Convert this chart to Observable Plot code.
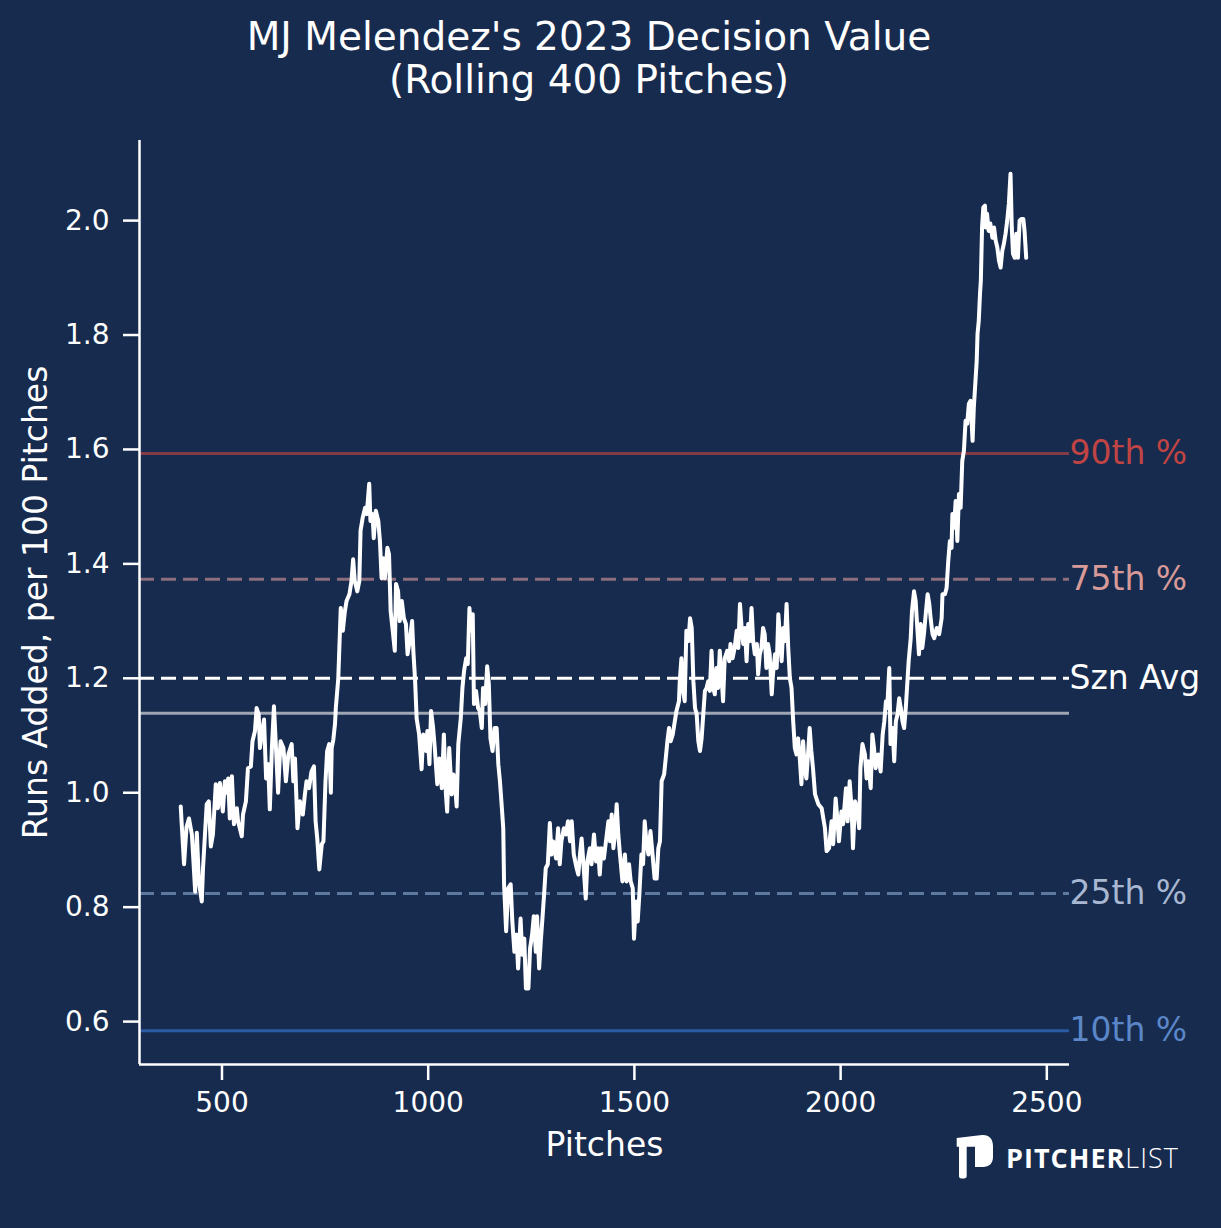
<!DOCTYPE html>
<html>
<head>
<meta charset="utf-8">
<script src="https://cdn.jsdelivr.net/npm/d3@7"></script>
<script src="https://cdn.jsdelivr.net/npm/@observablehq/plot@0.6"></script>
<style>
html, body { margin: 0; padding: 0; background: #172b4e; }
#wrap { position: relative; width: 1221px; height: 1228px; overflow: hidden; background: #172b4e; }
#title { position: absolute; left: 0; top: 15px; width: 1178px; text-align: center; color: #fff;
  font-family: "DejaVu Sans", sans-serif; font-size: 39px; line-height: 43px; }
#logo { position: absolute; left: 955px; top: 1133px; display: flex; align-items: center; }
#logo .word { margin-left: 11px; color: #fff; font-family: "Open Sans", sans-serif; font-size: 27px; letter-spacing: 1px; line-height: 1; }
#logo .b { font-weight: 700; }
#logo .l { font-weight: 300; }
</style>
</head>
<body>
<div id="wrap">
  <div id="title"></div>
  <div id="logo">
    <svg width="40" height="48" viewBox="0 0 40 48">
      <path d="M1.7,5 L27,2 C34,1.5 38,6 38,13 L38,24 C38,30.5 34,34 28,34 L20,34 L20,13.7 L11.7,13.7 L11.7,43 C11.7,44.6 10.7,45.5 9,45.5 L6.5,45.5 C4.8,45.5 4,44.6 4,43 L4,13.7 L1.7,13.7 Z" fill="#fff"/>
    </svg>
    <div class="word"><span class="b">PITCHER</span><span class="l">LIST</span></div>
  </div>
</div>
<script>
// ---- Data ----
const titleLines = ["MJ Melendez's 2023 Decision Value", "(Rolling 400 Pitches)"];
const xLabel = "Pitches";
const yLabel = "Runs Added, per 100 Pitches";
const xTicks = [500, 1000, 1500, 2000, 2500];
const yTicks = [0.6, 0.8, 1.0, 1.2, 1.4, 1.6, 1.8, 2.0];

const pitches = [
400,402,408,414,420,427,430,435,439,444,451,454,463,468,473,478,485,490,495,502,507,511,515,519,524,529,536,539,548,551,558,563,570,574,580,584,589,592,596,602,607,612,616,621,626,631,636,642,649,655,661,669,673,677,683,689,696,701,705,711,717,723,727,731,736,742,746,751,755,760,764,766,770,774,776,782,
788,793,798,802,809,814,818,822,828,833,836,841,847,851,857,860,865,868,873,879,883,887,891,895,901,905,909,914,919,922,927,931,936,941,946,950,956,961,964,968,972,978,984,988,995,998,1003,1007,1012,1016,1022,1027,1033,1038,1043,1046,1051,1057,1061,1065,1069,1073,1079,1083,1087,1092,1096,1100,1104,1108,1111,1116,1121,1125,1130,1133,1138,1143,1147,1151,1156,1161,1166,1170,1174,1178,1182,
1184,1189,1194,1200,1204,1209,1214,1218,1224,1228,1233,1237,1243,1247,1252,1256,1261,1264,1269,1273,1277,1281,1285,1290,1295,1299,1303,1310,1315,1319,1323,1329,1334,1339,1344,1348,1353,1360,1364,1368,1372,1376,1382,1386,1392,1396,1402,1407,1412,1416,1420,1426,1431,1437,1441,1445,1449,1453,1457,1461,1465,1471,1477,1481,1487,1491,1496,1499,1504,1508,1512,1517,1521,1525,1529,1534,1539,1544,1549,1554,1558,1562,1566,1572,1576,1580,1584,1588,1593,1598,1602,1608,
1610,1614,1618,1622,1626,1631,1635,1639,1643,1647,1651,1655,1659,1663,1667,1671,1675,1679,1683,1687,1691,1695,1699,1703,1707,1711,1715,1719,1725,1730,1733,1738,1743,1748,1752,1756,1760,1764,1768,1772,1776,1780,1784,1788,1792,1797,1800,1804,1808,1812,1816,1820,1824,1828,1833,1836,1841,1845,1849,1853,1857,1861,1865,1869,1873,1877,1881,1885,1889,1893,1897,1901,1905,1909,1913,1917,1921,1925,1929,1933,
1938,1946,1954,1962,1966,1972,1978,1982,1988,1992,1996,2002,2006,2013,2017,2022,2027,2030,2035,2040,2045,2048,2053,2059,2063,2067,2073,2077,2081,2085,2091,2097,2102,2106,2110,2113,2118,2121,2126,2130,2134,2138,2142,2146,2150,2154,2158,2161,2165,2170,2173,2178,2182,2186,2190,2194,2198,2202,2207,2211,2215,2219,2223,2227,2233,2239,2245,2247,2253,2257,2261,
2265,2269,2271,2275,2279,2283,2287,2291,2295,2299,2303,2307,2311,2315,2320,2323,2327,2330,2332,2335,2338,2340,2343,2346,2350,2352,2355,2359,2363,2368,2372,2376,2380,2384,2388,2392,2396,2400,2404,2408,2412,2415,2418,2422,2426,2430,2434,2439,2443,2446,2450
];
const values = [
0.976,0.95,0.875,0.94,0.955,0.927,0.89,0.827,0.93,0.845,0.81,0.868,0.98,0.985,0.906,0.927,1.015,0.973,1.017,0.967,1.02,1.0,1.025,0.955,1.029,0.945,0.973,0.95,0.924,0.962,0.985,1.043,1.046,1.09,1.108,1.148,1.137,1.078,1.102,1.128,1.025,1.05,0.971,1.078,1.151,1.078,1.0,1.09,1.078,1.02,1.067,1.085,1.02,1.06,0.938,0.985,0.962,0.997,1.02,1.008,1.037,1.046,0.95,0.92,0.866,0.91,0.915,1.02,1.073,1.085,1.0,1.078,1.093,1.12,1.148,1.2,
1.323,1.283,1.317,1.335,1.347,1.37,1.408,1.37,1.352,1.37,1.458,1.48,1.498,1.487,1.54,1.475,1.487,1.445,1.493,1.475,1.44,1.375,1.41,1.375,1.428,1.417,1.317,1.283,1.248,1.365,1.352,1.3,1.335,1.305,1.295,1.242,1.27,1.3,1.248,1.2,1.13,1.102,1.041,1.102,1.073,1.108,1.05,1.143,1.113,1.078,1.015,1.06,1.008,1.102,0.997,0.967,1.078,0.997,1.032,1.015,0.976,1.085,1.13,1.183,1.213,1.235,1.225,1.323,1.283,1.312,1.155,1.178,1.148,1.143,1.113,1.183,1.155,1.221,1.19,1.095,1.073,1.113,1.113,1.05,1.02,0.98,0.938,
0.84,0.758,0.833,0.84,0.775,0.722,0.752,0.693,0.78,0.717,0.745,0.658,0.658,0.728,0.752,0.784,0.722,0.784,0.693,0.74,0.78,0.822,0.868,0.875,0.947,0.892,0.915,0.885,0.938,0.875,0.915,0.938,0.927,0.95,0.915,0.95,0.892,0.868,0.857,0.892,0.92,0.88,0.815,0.88,0.903,0.875,0.927,0.88,0.903,0.857,0.903,0.885,0.915,0.95,0.915,0.962,0.903,0.927,0.98,0.927,0.892,0.845,0.892,0.845,0.875,0.845,0.833,0.745,0.81,0.775,0.822,0.892,0.875,0.95,0.915,0.892,0.933,0.892,0.85,0.85,0.903,0.915,1.02,1.032,1.06,1.09,1.113,1.09,1.102,1.125,1.143,1.16,
1.195,1.235,1.178,1.16,1.283,1.265,1.305,1.288,1.195,1.148,1.137,1.09,1.073,1.095,1.137,1.178,1.183,1.195,1.178,1.248,1.183,1.172,1.218,1.183,1.248,1.207,1.16,1.235,1.248,1.23,1.26,1.235,1.253,1.283,1.253,1.33,1.288,1.26,1.288,1.23,1.295,1.265,1.323,1.265,1.242,1.26,1.207,1.242,1.253,1.288,1.277,1.218,1.26,1.242,1.172,1.207,1.242,1.218,1.312,1.27,1.23,1.288,1.265,1.33,1.253,1.2,1.183,1.125,1.078,1.067,1.095,1.06,1.015,1.09,1.043,1.025,1.067,1.113,1.073,1.043,
0.997,0.98,0.973,0.938,0.898,0.903,0.95,0.91,0.99,0.955,0.915,0.967,0.945,1.008,0.95,1.02,0.967,0.903,0.985,0.973,0.938,1.043,1.085,1.067,1.025,1.055,1.008,1.102,1.078,1.043,1.067,1.037,1.102,1.125,1.16,1.148,1.218,1.085,1.113,1.055,1.125,1.137,1.165,1.148,1.125,1.113,1.148,1.183,1.23,1.27,1.317,1.352,1.335,1.288,1.242,1.295,1.253,1.277,1.317,1.347,1.33,1.3,1.277,1.27,1.288,1.277,1.305,1.347,1.347,1.358,1.405,
1.44,1.428,1.487,1.463,1.51,1.44,1.522,1.498,1.58,1.598,1.65,1.645,1.68,1.685,1.615,1.673,1.72,1.755,1.802,1.825,1.872,1.895,1.988,2.023,2.026,1.988,2.012,1.982,1.995,1.97,1.988,1.965,1.953,1.93,1.918,1.947,1.96,1.977,2.0,2.03,2.082,1.988,1.942,1.935,1.977,1.935,2.0,2.003,2.003,1.982,1.935
];

const refNames  = ["90th %", "75th %", "Szn Avg", "", "25th %", "10th %"];
const refValues = [1.593, 1.373, 1.2, 1.139, 0.824, 0.584];

// ---- Styles ----
const refLineColors = ["#843a47", "#8c6e7c", "#ffffff", "#9ea6b4", "#5e799f", "#2b5ba3"];
const refTextColors = ["#c04444", "#d89a98", "#ffffff", "#9ea6b4", "#a9b8d2", "#5b87c8"];
const refDashed     = [false, true, true, false, true, false];

const rows = pitches.map((p, i) => ({pitch: p, value: values[i]}));
const xDomain = [300, 2555];
const yDomain = [0.525, 2.14];

document.getElementById("title").innerHTML = titleLines.join("<br>");

const refMarks = [];
refValues.forEach((v, i) => {
  refMarks.push(Plot.ruleY([v], {
    stroke: refLineColors[i], strokeWidth: 3,
    strokeDasharray: refDashed[i] ? "15,7" : null
  }));
  if (refNames[i]) {
    refMarks.push(Plot.text([refNames[i]], {
      x: xDomain[1], y: v, text: d => d, textAnchor: "start", dx: 0,
      fill: refTextColors[i], fontSize: 33, lineAnchor: "middle"
    }));
  }
});

const chart = Plot.plot({
  width: 1221, height: 1228,
  marginLeft: 139, marginRight: 152, marginTop: 140, marginBottom: 164,
  style: {background: "#172b4e", color: "#ffffff", fontFamily: "DejaVu Sans, sans-serif", overflow: "visible"},
  x: {domain: xDomain},
  y: {domain: yDomain},
  marks: [
    ...refMarks,
    Plot.line(rows, {x: "pitch", y: "value", stroke: "#ffffff", strokeWidth: 4, strokeLinejoin: "round", strokeLinecap: "round"}),
    Plot.ruleX([xDomain[0]], {stroke: "#ffffff", strokeWidth: 2.5}),
    Plot.ruleY([yDomain[0]], {stroke: "#ffffff", strokeWidth: 2.5}),
    Plot.axisX({ticks: xTicks, tickFormat: d => String(d), tickSize: 16, tickPadding: 12, fontSize: 28, strokeWidth: 2.5, color: "#ffffff", label: null}),
    Plot.axisY({ticks: yTicks, tickFormat: d => d.toFixed(1), tickSize: 16, tickPadding: 14, fontSize: 28, strokeWidth: 2.5, color: "#ffffff", label: null}),
    Plot.text([xLabel], {frameAnchor: "bottom", dy: 81, fontSize: 33, fill: "#ffffff", lineAnchor: "middle", textAnchor: "middle"}),
    Plot.text([yLabel], {frameAnchor: "left", dx: -103, rotate: -90, fontSize: 33, fill: "#ffffff", lineAnchor: "middle", textAnchor: "middle"})
  ]
});
document.getElementById("wrap").prepend(chart);
</script>
</body>
</html>
